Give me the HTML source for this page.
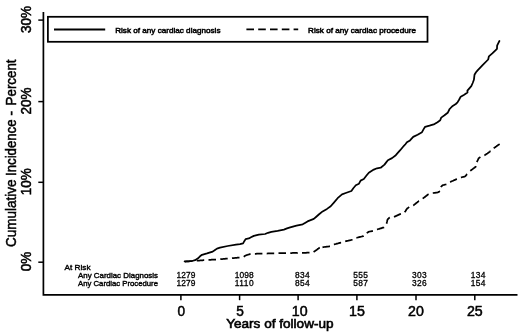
<!DOCTYPE html>
<html lang="en"><head><meta charset="utf-8"><title>Cumulative incidence</title>
<style>html,body{margin:0;padding:0;background:#fff}svg{display:block;filter:blur(0.4px)}</style></head>
<body>
<svg width="520" height="335" viewBox="0 0 520 335">
<rect width="520" height="335" fill="#fff"/>
<g font-family="'Liberation Sans', sans-serif" fill="#000">
<path d="M43.4,11.9 V294.9 H517.5" fill="none" stroke="#000" stroke-width="1.7"/>
<path d="M38.3,262.2 H43.4" stroke="#000" stroke-width="1.5"/>
<text transform="translate(31.0,271.34999999999997) rotate(-90)" font-size="14" textLength="19.5" lengthAdjust="spacingAndGlyphs" stroke="#000" stroke-width="0.5">0%</text>
<path d="M38.3,182.3 H43.4" stroke="#000" stroke-width="1.5"/>
<text transform="translate(31.0,195.20000000000002) rotate(-90)" font-size="14" textLength="27.0" lengthAdjust="spacingAndGlyphs" stroke="#000" stroke-width="0.5">10%</text>
<path d="M38.3,101.6 H43.4" stroke="#000" stroke-width="1.5"/>
<text transform="translate(31.0,114.5) rotate(-90)" font-size="14" textLength="27.0" lengthAdjust="spacingAndGlyphs" stroke="#000" stroke-width="0.5">20%</text>
<path d="M38.3,20.1 H43.4" stroke="#000" stroke-width="1.5"/>
<text transform="translate(31.0,33.0) rotate(-90)" font-size="14" textLength="27.0" lengthAdjust="spacingAndGlyphs" stroke="#000" stroke-width="0.5">30%</text>
<path d="M180.9,294.9 V300.2" stroke="#000" stroke-width="1.5"/>
<text x="177.50" y="315.9" font-size="14" textLength="7.6" lengthAdjust="spacingAndGlyphs" stroke="#000" stroke-width="0.5">0</text>
<path d="M239.6,294.9 V300.2" stroke="#000" stroke-width="1.5"/>
<text x="236.20" y="315.9" font-size="14" textLength="7.6" lengthAdjust="spacingAndGlyphs" stroke="#000" stroke-width="0.5">5</text>
<path d="M298.1,294.9 V300.2" stroke="#000" stroke-width="1.5"/>
<text x="291.80" y="315.9" font-size="14" textLength="15.8" lengthAdjust="spacingAndGlyphs" stroke="#000" stroke-width="0.5">10</text>
<path d="M356.9,294.9 V300.2" stroke="#000" stroke-width="1.5"/>
<text x="349.00" y="315.9" font-size="14" textLength="15.8" lengthAdjust="spacingAndGlyphs" stroke="#000" stroke-width="0.5">15</text>
<path d="M416.0,294.9 V300.2" stroke="#000" stroke-width="1.5"/>
<text x="408.10" y="315.9" font-size="14" textLength="15.8" lengthAdjust="spacingAndGlyphs" stroke="#000" stroke-width="0.5">20</text>
<path d="M474.8,294.9 V300.2" stroke="#000" stroke-width="1.5"/>
<text x="466.90" y="315.9" font-size="14" textLength="15.8" lengthAdjust="spacingAndGlyphs" stroke="#000" stroke-width="0.5">25</text>
<text x="226.2" y="328.1" font-size="13" textLength="107.4" lengthAdjust="spacingAndGlyphs" stroke="#000" stroke-width="0.6">Years of follow-up</text>
<g transform="translate(15.8,0)" font-size="14" stroke="#000" stroke-width="0.5">
<text transform="translate(0,246.9) rotate(-90)" textLength="67.5" lengthAdjust="spacingAndGlyphs">Cumulative</text>
<text transform="translate(0,175.9) rotate(-90)" textLength="56.4" lengthAdjust="spacingAndGlyphs">Incidence</text>
<text transform="translate(0,115.6) rotate(-90)" textLength="4.5" lengthAdjust="spacingAndGlyphs">-</text>
<text transform="translate(0,105.4) rotate(-90)" textLength="45.9" lengthAdjust="spacingAndGlyphs">Percent</text>
</g>
<rect x="47.9" y="16.8" width="379.6" height="25" fill="#fff" stroke="#000" stroke-width="1.75"/>
<path d="M54,29.5 H105.2" stroke="#000" stroke-width="1.9"/>
<text x="115.2" y="33" font-size="7.9" textLength="105.3" lengthAdjust="spacingAndGlyphs" stroke="#000" stroke-width="0.5">Risk of any cardiac diagnosis</text>
<path d="M246.4,29.4 H298.2" stroke="#000" stroke-width="1.9" stroke-dasharray="7.6 4.2"/>
<text x="308" y="33" font-size="7.9" textLength="108" lengthAdjust="spacingAndGlyphs" stroke="#000" stroke-width="0.5">Risk of any cardiac procedure</text>
<g font-size="7.9" stroke="#000" stroke-width="0.4">
<text x="64.5" y="270" textLength="26" lengthAdjust="spacingAndGlyphs">At Risk</text>
<text x="78" y="278" textLength="80" lengthAdjust="spacingAndGlyphs">Any Cardiac Diagnosis</text>
<text x="78" y="285.8" textLength="80" lengthAdjust="spacingAndGlyphs">Any Cardiac Procedure</text>
<text x="176.5" y="277.8" font-size="8.4" stroke-width="0.3" textLength="19" lengthAdjust="spacing">1279</text>
<text x="176.5" y="285.5" font-size="8.4" stroke-width="0.3" textLength="19" lengthAdjust="spacing">1279</text>
<text x="234.7" y="277.8" font-size="8.4" stroke-width="0.3" textLength="19" lengthAdjust="spacing">1098</text>
<text x="234.7" y="285.5" font-size="8.4" stroke-width="0.3" textLength="19" lengthAdjust="spacing">1110</text>
<text x="295.1" y="277.8" font-size="8.4" stroke-width="0.3" textLength="14.6" lengthAdjust="spacing">834</text>
<text x="295.1" y="285.5" font-size="8.4" stroke-width="0.3" textLength="14.6" lengthAdjust="spacing">854</text>
<text x="353.3" y="277.8" font-size="8.4" stroke-width="0.3" textLength="14.6" lengthAdjust="spacing">555</text>
<text x="353.3" y="285.5" font-size="8.4" stroke-width="0.3" textLength="14.6" lengthAdjust="spacing">587</text>
<text x="412.1" y="277.8" font-size="8.4" stroke-width="0.3" textLength="14.6" lengthAdjust="spacing">303</text>
<text x="412.1" y="285.5" font-size="8.4" stroke-width="0.3" textLength="14.6" lengthAdjust="spacing">326</text>
<text x="470.8" y="277.8" font-size="8.4" stroke-width="0.3" textLength="14.6" lengthAdjust="spacing">134</text>
<text x="470.8" y="285.5" font-size="8.4" stroke-width="0.3" textLength="14.6" lengthAdjust="spacing">154</text>
</g>
<path d="M184.6,261.4 L188.0,261.3 L192.0,261.0 L195.1,260.2 L198.0,258.3 L200.0,256.3 L202.0,254.8 L207.0,253.4 L212.7,251.6 L215.0,250.0 L217.0,248.6 L220.0,247.7 L227.7,246.0 L236.0,244.6 L240.0,244.1 L243.1,243.4 L244.3,241.2 L245.6,239.1 L248.8,238.4 L251.0,237.2 L253.8,235.9 L258.8,234.6 L265.1,234.0 L268.0,232.8 L271.4,231.8 L277.6,230.8 L283.9,229.6 L287.0,228.4 L290.2,227.4 L296.5,225.6 L302.7,224.3 L305.0,222.9 L307.5,221.4 L313.8,218.9 L316.0,217.0 L318.8,214.5 L322.6,211.4 L327.0,208.9 L330.7,206.3 L333.9,202.6 L337.6,198.2 L342.0,194.4 L346.4,192.8 L351.4,191.0 L353.3,188.2 L355.8,185.3 L357.4,184.5 L359.0,183.7 L360.6,180.6 L363.8,179.0 L366.3,175.8 L368.8,172.7 L373.8,169.6 L377.0,168.3 L380.7,167.7 L384.5,164.6 L386.2,162.4 L387.9,160.2 L392.0,158.1 L395.8,155.2 L400.2,150.2 L403.9,145.8 L405.6,144.0 L406.9,142.3 L410.0,140.4 L413.2,136.9 L417.6,134.7 L422.0,132.2 L423.5,129.4 L425.1,126.8 L429.5,125.6 L434.5,124.1 L437.5,122.2 L440.2,120.3 L441.2,117.6 L444.5,115.3 L447.7,112.8 L449.6,109.0 L452.7,105.9 L455.8,104.0 L457.5,102.4 L459.2,99.5 L460.7,96.7 L463.8,94.9 L467.5,92.6 L467.4,90.6 L471.3,86.1 L472.7,83.0 L473.9,79.8 L474.5,74.8 L476.0,72.3 L477.6,70.4 L482.6,65.1 L488.2,59.5 L488.9,56.3 L492.6,53.2 L497.0,48.8 L497.1,45.7 L498.2,43.3 L499.4,41.0" fill="none" stroke="#000" stroke-width="1.75" stroke-linejoin="round" stroke-linecap="round"/>
<path d="M184.9,261.6 L185.5,261.5 L186.1,261.5 L186.7,261.4 L187.3,261.4 L187.9,261.3 L188.5,261.3 L189.1,261.3 L189.7,261.2 L190.3,261.2 L190.9,261.1 L191.5,261.1 L192.1,261.0 L192.4,261.0 M196.7,260.7 L197.3,260.6 L197.9,260.6 L198.5,260.6 L199.1,260.5 L199.7,260.5 L200.3,260.4 L200.9,260.4 L201.5,260.4 L202.1,260.3 L202.7,260.3 L203.3,260.2 L203.9,260.2 L204.2,260.2 M208.5,259.9 L209.1,259.9 L209.7,259.8 L210.3,259.8 L210.9,259.8 L211.5,259.7 L212.1,259.7 L212.7,259.7 L213.3,259.6 L213.9,259.6 L214.5,259.5 L215.1,259.5 L215.7,259.5 L216.0,259.5 M220.3,259.2 L220.9,259.1 L221.5,259.1 L222.1,259.0 L222.7,259.0 L223.3,258.9 L223.9,258.9 L224.5,258.8 L225.1,258.8 L225.7,258.7 L226.3,258.7 L226.9,258.6 L227.5,258.6 L227.7,258.6 M232.0,258.2 L232.6,258.1 L233.2,258.1 L233.8,258.0 L234.4,258.0 L235.0,257.9 L235.6,257.9 L236.2,257.8 L236.8,257.8 L237.4,257.7 L238.0,257.6 L238.6,257.6 L239.2,257.5 L239.5,257.5 M243.7,256.7 L244.2,256.4 L244.7,256.1 L245.2,255.8 L245.7,255.5 L246.3,255.2 L246.9,255.0 L247.5,254.9 L248.1,254.7 L248.6,254.5 L249.2,254.3 L249.8,254.1 L250.4,254.0 L250.6,254.0 M254.9,253.8 L255.5,253.8 L256.1,253.8 L256.7,253.7 L257.3,253.7 L257.9,253.7 L258.5,253.7 L259.1,253.6 L259.7,253.6 L260.3,253.6 L260.9,253.6 L261.5,253.6 L262.1,253.6 L262.4,253.6 M266.7,253.5 L267.3,253.5 L267.9,253.4 L268.5,253.4 L269.1,253.4 L269.7,253.4 L270.3,253.4 L270.9,253.4 L271.5,253.4 L272.1,253.4 L272.7,253.4 L273.3,253.3 L273.9,253.3 L274.2,253.3 M278.5,253.2 L279.1,253.2 L279.7,253.2 L280.3,253.2 L280.9,253.2 L281.5,253.2 L282.1,253.2 L282.7,253.1 L283.3,253.1 L283.9,253.1 L284.5,253.1 L285.1,253.1 L285.7,253.1 L286.0,253.1 M290.3,253.0 L290.9,253.0 L291.5,253.0 L292.1,253.0 L292.7,252.9 L293.3,252.9 L293.9,252.9 L294.5,252.9 L295.1,252.9 L295.7,252.9 L296.3,252.9 L296.9,252.9 L297.5,252.9 L297.8,252.8 M302.0,252.8 L302.6,252.8 L303.2,252.8 L303.8,252.8 L304.4,252.8 L305.0,252.8 L305.6,252.8 L306.2,252.8 L306.8,252.7 L307.4,252.7 L308.0,252.7 L308.6,252.7 L309.2,252.7 L309.5,252.7 M313.6,252.0 L314.1,251.6 L314.6,251.3 L315.1,250.9 L315.6,250.6 L316.1,250.2 L316.6,249.9 L317.1,249.5 L317.5,249.2 L318.0,248.8 L318.5,248.5 L319.0,248.1 L319.5,247.8 L319.8,247.7 M322.5,247.3 L323.1,247.2 L323.7,247.1 L324.3,247.0 L324.9,246.9 L325.5,246.9 L326.1,246.8 L326.7,246.7 L327.3,246.6 L327.9,246.5 L328.5,246.5 L329.1,246.4 L329.7,246.3 L330.0,246.3 M333.9,244.5 L334.5,244.3 L335.1,244.2 L335.6,244.0 L336.2,243.9 L336.8,243.7 L337.4,243.6 L338.0,243.4 L338.5,243.2 L339.1,243.1 L339.7,242.9 L340.3,242.8 L340.9,242.6 L341.1,242.6 M345.2,241.3 L345.8,241.2 L346.4,241.1 L347.0,240.9 L347.6,240.8 L348.2,240.7 L348.7,240.6 L349.3,240.4 L349.9,240.3 L350.5,240.2 L351.1,240.0 L351.7,239.9 L352.3,239.8 L352.5,239.8 M356.4,237.8 L357.0,237.7 L357.6,237.5 L358.2,237.4 L358.7,237.2 L359.3,237.1 L359.9,236.9 L360.5,236.8 L361.1,236.7 L361.7,236.5 L362.3,236.4 L362.9,236.2 L363.5,236.1 L363.7,236.0 M366.7,233.0 L367.2,232.7 L367.7,232.4 L368.2,232.1 L368.8,231.8 L369.3,231.6 L369.9,231.5 L370.5,231.4 L371.1,231.3 L371.7,231.2 L372.3,231.1 L372.9,231.0 L373.0,231.0 M377.0,229.5 L377.6,229.3 L378.1,229.1 L378.7,229.0 L379.3,228.8 L379.9,228.6 L380.5,228.4 L381.0,228.3 L381.6,228.1 L382.2,227.9 L382.8,227.7 L383.3,227.6 L383.9,227.4 L384.1,227.3 M386.5,223.8 L386.7,223.2 L386.8,222.6 L386.9,222.0 L387.1,221.5 L387.2,220.9 L387.3,220.3 L387.5,219.7 L387.8,219.2 L388.2,218.8 L388.7,218.3 L389.1,217.9 L389.6,217.6 L389.8,217.5 M394.0,216.9 L394.6,216.6 L395.1,216.4 L395.7,216.1 L396.2,215.9 L396.8,215.6 L397.3,215.4 L397.9,215.1 L398.4,214.9 L399.0,214.6 L399.5,214.4 L400.1,214.1 L400.6,213.9 L400.9,213.8 M404.7,212.2 L405.0,211.7 L405.4,211.2 L405.7,210.7 L406.0,210.2 L406.3,209.7 L406.6,209.2 L407.0,208.7 L407.5,208.3 L407.9,208.0 L408.4,207.6 L408.9,207.3 L409.2,207.1 M413.2,205.5 L413.7,205.2 L414.1,204.8 L414.6,204.4 L415.1,204.0 L415.5,203.7 L416.0,203.3 L416.5,202.9 L417.0,202.5 L417.4,202.2 L417.9,201.8 L418.4,201.4 L418.8,201.0 L419.0,200.9 M422.7,198.6 L423.1,198.3 L423.6,197.9 L424.1,197.5 L424.6,197.2 L425.1,196.8 L425.5,196.4 L426.0,196.1 L426.5,195.7 L427.0,195.3 L427.5,195.0 L427.9,194.6 L428.4,194.2 L428.6,194.1 M432.8,193.1 L433.4,193.0 L434.0,192.9 L434.6,192.8 L435.2,192.8 L435.8,192.7 L436.4,192.6 L437.0,192.6 L437.6,192.5 L438.1,192.2 L438.7,191.9 L439.3,191.6 L439.8,191.3 L440.0,191.2 M440.9,187.1 L441.2,186.6 L441.7,186.2 L442.1,185.7 L442.5,185.3 L443.1,185.1 L443.7,185.0 L444.3,184.8 L444.9,184.7 L445.4,184.5 L446.0,184.4 L446.4,184.3 M450.0,182.0 L450.6,181.8 L451.1,181.5 L451.7,181.3 L452.2,181.0 L452.8,180.8 L453.3,180.6 L453.9,180.3 L454.4,180.1 L455.0,179.9 L455.5,179.6 L456.1,179.4 L456.6,179.1 L456.9,179.0 M460.9,177.4 L461.5,177.3 L462.1,177.2 L462.7,177.0 L463.2,176.9 L463.8,176.8 L464.4,176.6 L465.0,176.5 L465.4,176.1 L465.8,175.6 L466.2,175.2 L466.6,174.7 L467.0,174.2 L467.2,174.1 M470.2,170.9 L470.6,170.6 L471.1,170.2 L471.6,169.8 L472.1,169.5 L472.6,169.1 L473.0,168.8 L473.5,168.4 L474.0,168.0 L474.5,167.7 L475.0,167.3 L475.4,166.9 L475.9,166.6 L476.0,166.3 M476.9,162.1 L477.1,161.5 L477.3,161.0 L477.6,160.5 L477.9,159.9 L478.1,159.4 L478.4,158.8 L478.7,158.3 L479.1,157.9 L479.6,157.5 L480.1,157.2 L480.4,157.0 M484.4,155.4 L484.9,155.1 L485.4,154.8 L485.9,154.4 L486.4,154.1 L486.9,153.7 L487.4,153.4 L487.9,153.0 L488.4,152.7 L488.9,152.3 L489.4,152.0 L489.9,151.6 L490.3,151.2 L490.6,151.1 M493.8,148.3 L494.2,147.9 L494.7,147.5 L495.2,147.2 L495.7,146.8 L496.2,146.5 L496.7,146.1 L497.2,145.8 L497.6,145.4 L498.1,145.1 L498.6,144.7 L499.1,144.4 L499.6,144.0" fill="none" stroke="#000" stroke-width="1.75" stroke-linejoin="round"/>
</g></svg>
</body></html>
